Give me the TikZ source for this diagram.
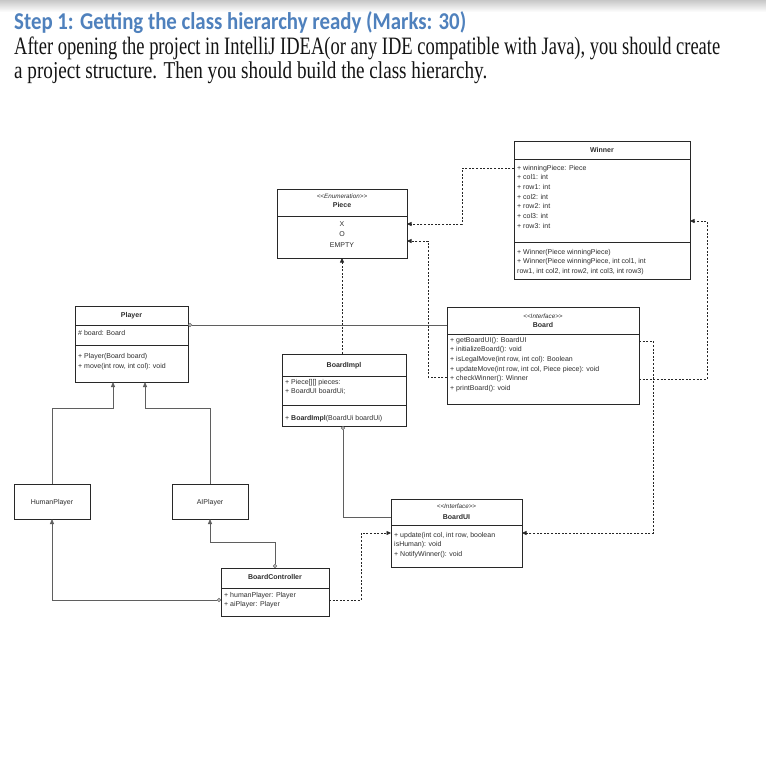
\documentclass[tikz,border=0pt]{standalone}
\usepackage{fontspec}
\setmainfont{Liberation Sans}
\newfontfamily\titlefont{Carlito}
\newfontfamily\bodyfont{Liberation Serif}
\usetikzlibrary{arrows.meta}
\definecolor{titleblue}{RGB}{79,129,189}
\definecolor{umlline}{RGB}{40,40,40}
\definecolor{umltext}{RGB}{45,45,45}
\definecolor{connector}{RGB}{95,95,95}
\begin{document}
\begin{tikzpicture}[x=1pt,y=-1pt,
  umlbox/.style={draw=umlline, line width=0.7pt, anchor=north west, inner sep=0pt, outer sep=0pt, fill=white},
  mem/.style={font=\fontsize{7}{8}\selectfont, text=umltext, inner sep=0pt, anchor=base west},
  cname/.style={font=\bfseries\fontsize{7}{8}\selectfont, text=umltext, inner sep=0pt, anchor=base},
  ctr/.style={font=\fontsize{7}{8}\selectfont, text=umltext, inner sep=0pt, anchor=base},
  stereo/.style={font=\itshape\fontsize{6.3}{7}\selectfont, text=umltext, inner sep=0pt, anchor=base},
  sep/.style={draw=umlline, line width=0.7pt},
  dep/.style={draw=black!85, line width=0.6pt, dash pattern=on 2pt off 1.6pt, -{Triangle[length=4.5pt,width=4pt]}},
  solidcon/.style={draw=connector, line width=0.8pt},
  inh/.style={solidcon, -{Triangle[length=5pt,width=4pt]}},
  agg/.style={solidcon, {Circle[open,length=4pt,fill=white]}-},
  agginh/.style={solidcon, {Circle[open,length=4pt,fill=white]}-{Triangle[length=5pt,width=4pt]}},
]
\useasboundingbox (0,0) rectangle (766,756);
\fill[white] (0,0) rectangle (766,756);
\shade[top color=black!22, bottom color=white] (0,0) rectangle (766,12);

% ---------- header text ----------
\node[anchor=north west, inner sep=0pt, text=titleblue] (title) at (14,11)
  {\resizebox*{452pt}{22pt}{\titlefont\bfseries Step 1: Getting the class hierarchy ready (Marks: 30)}};
\node[anchor=north west, inner sep=0pt, text=black!92] (line1) at (14,37)
  {\resizebox*{706pt}{23pt}{\bodyfont After opening the project in IntelliJ IDEA(or any IDE compatible with Java), you should create}};
\node[anchor=north west, inner sep=0pt, text=black!92] (line2) at (14,62)
  {\resizebox*{473pt}{22pt}{\bodyfont a project structure. Then you should build the class hierarchy.}};

% ---------- Winner ----------
\node[umlbox, minimum width=176pt, minimum height=138pt] (winner) at (514,141) {};
\draw[sep] (winner.west |- 0,159) -- (winner.east |- 0,159);
\draw[sep] (winner.west |- 0,242) -- (winner.east |- 0,242);
\node[cname] (winnerT) at (602,152.3) {Winner};
\foreach \t [count=\i] in {{+ winningPiece: Piece},{+ col1: int},{+ row1: int},{+ col2: int},{+ row2: int},{+ col3: int},{+ row3: int}}
  \node[mem] (wa\i) at (517,{170.3+9.65*(\i-1)}) {\t};
\foreach \t [count=\i] in {{+ Winner(Piece winningPiece)},{+ Winner(Piece winningPiece, int col1, int},{row1, int col2, int row2, int col3, int row3)}}
  \node[mem] (wm\i) at (517,{254.3+9.65*(\i-1)}) {\t};

% ---------- Piece ----------
\node[umlbox, minimum width=130pt, minimum height=69pt] (piece) at (277,189) {};
\draw[sep] (piece.west |- 0,216) -- (piece.east |- 0,216);
\node[stereo] (pieceS) at (342,198) {<{}<Enumeration>{}>};
\node[cname] (pieceT) at (342,207.8) {Piece};
\node[ctr] (pieceX) at (342,226.3) {X};
\node[ctr] (pieceO) at (342,236.6) {O};
\node[ctr] (pieceE) at (342,247.0) {EMPTY};

% ---------- Player ----------
\node[umlbox, minimum width=113pt, minimum height=76pt] (player) at (75,306) {};
\draw[sep] (player.west |- 0,325) -- (player.east |- 0,325);
\draw[sep] (player.west |- 0,345) -- (player.east |- 0,345);
\node[cname] (playerT) at (131.5,317.3) {Player};
\node[mem] (playerA) at (78,335.8) {\# board: Board};
\node[mem] (playerM1) at (78,358.3) {+ Player(Board board)};
\node[mem] (playerM2) at (78,368.0) {+ move(int row, int col): void};

% ---------- Board ----------
\node[umlbox, minimum width=192pt, minimum height=97pt] (board) at (447,307) {};
\draw[sep] (board.west |- 0,334) -- (board.east |- 0,334);
\node[stereo] (boardS) at (543,318.3) {<{}<Interface>{}>};
\node[cname] (boardT) at (543,327.5) {Board};
\foreach \t [count=\i] in {{+ getBoardUI(): BoardUI},{+ initializeBoard(): void},{+ isLegalMove(int row, int col): Boolean},{+ updateMove(int row, int col, Piece piece): void},{+ checkWinner(): Winner},{+ printBoard(): void}}
  \node[mem] (bm\i) at (450,{342.3+9.65*(\i-1)}) {\t};

% ---------- BoardImpl ----------
\node[umlbox, minimum width=124pt, minimum height=72pt] (boardimpl) at (282,354) {};
\draw[sep] (boardimpl.west |- 0,376) -- (boardimpl.east |- 0,376);
\draw[sep] (boardimpl.west |- 0,405) -- (boardimpl.east |- 0,405);
\node[cname] (boardimplT) at (344,367.3) {BoardImpl};
\node[mem] (biA1) at (285,384.5) {+ Piece[][] pieces:};
\node[mem] (biA2) at (285,393.5) {+ BoardUI boardUi;};
\node[mem] (biM1) at (285,420.3) {+ \textbf{BoardImpl}(BoardUi boardUi)};

% ---------- BoardUI ----------
\node[umlbox, minimum width=131pt, minimum height=68pt] (boardui) at (391,499) {};
\draw[sep] (boardui.west |- 0,525) -- (boardui.east |- 0,525);
\node[stereo] (boarduiS) at (456.5,508) {<{}<Interface>{}>};
\node[cname] (boarduiT) at (456.5,519) {BoardUI};
\node[mem] (buM1) at (394,537.3) {+ update(int col, int row, boolean};
\node[mem] (buM2) at (394,546.8) {isHuman): void};
\node[mem] (buM3) at (394,556.3) {+ NotifyWinner(): void};

% ---------- HumanPlayer / AIPlayer ----------
\node[umlbox, minimum width=76pt, minimum height=35pt] (human) at (14,484) {};
\node[ctr] (humanT) at (52,504.3) {HumanPlayer};
\node[umlbox, minimum width=76pt, minimum height=35pt] (aiplayer) at (172,484) {};
\node[ctr] (aiplayerT) at (210,504.3) {AIPlayer};

% ---------- BoardController ----------
\node[umlbox, minimum width=108pt, minimum height=48pt] (bc) at (221,568) {};
\draw[sep] (bc.west |- 0,588) -- (bc.east |- 0,588);
\node[cname] (bcT) at (275,579.5) {BoardController};
\node[mem] (bcA1) at (224,597.3) {+ humanPlayer: Player};
\node[mem] (bcA2) at (224,606.5) {+ aiPlayer: Player};

% ---------- connectors ----------
% dependencies on Piece
\draw[dep] (winner.west |- 0,168) -- (462,168) -- (462,224) -- (piece.east |- 0,224);
\draw[dep] (board.west |- 0,377) -- (428,377) -- (428,241) -- (piece.east |- 0,241);
\draw[dep] (boardimpl.north -| 342,0) -- (piece.south);
% Board dependencies
\draw[dep] (board.east |- 0,341) -- (653,341) -- (653,533) -- (boardui.east |- 0,533);
\draw[dep] (board.east |- 0,379) -- (707,379) -- (707,221) -- (winner.east |- 0,221);
% BoardController -> BoardUI
\draw[dep] (bc.east |- 0,600) -- (361,600) -- (361,533) -- (boardui.west |- 0,533);
% Player -- Board
\draw[agg] (player.east |- 0,325) -- (board.west |- 0,325);
% inheritance
\draw[inh] (human.north) -- (52,408) -- (113,408) -- (player.south -| 113,0);
\draw[inh] (aiplayer.north) -- (210,408) -- (145,408) -- (player.south -| 145,0);
% BoardImpl -- BoardUI
\draw[agg] (boardimpl.south -| 343,0) -- (343,517) -- (boardui.west |- 0,517);
% BoardController -> players
\draw[agginh] (bc.west |- 0,600) -- (52,600) -- (human.south);
\draw[agginh] (bc.north) -- (275,542) -- (210,542) -- (aiplayer.south);
\end{tikzpicture}
\end{document}
